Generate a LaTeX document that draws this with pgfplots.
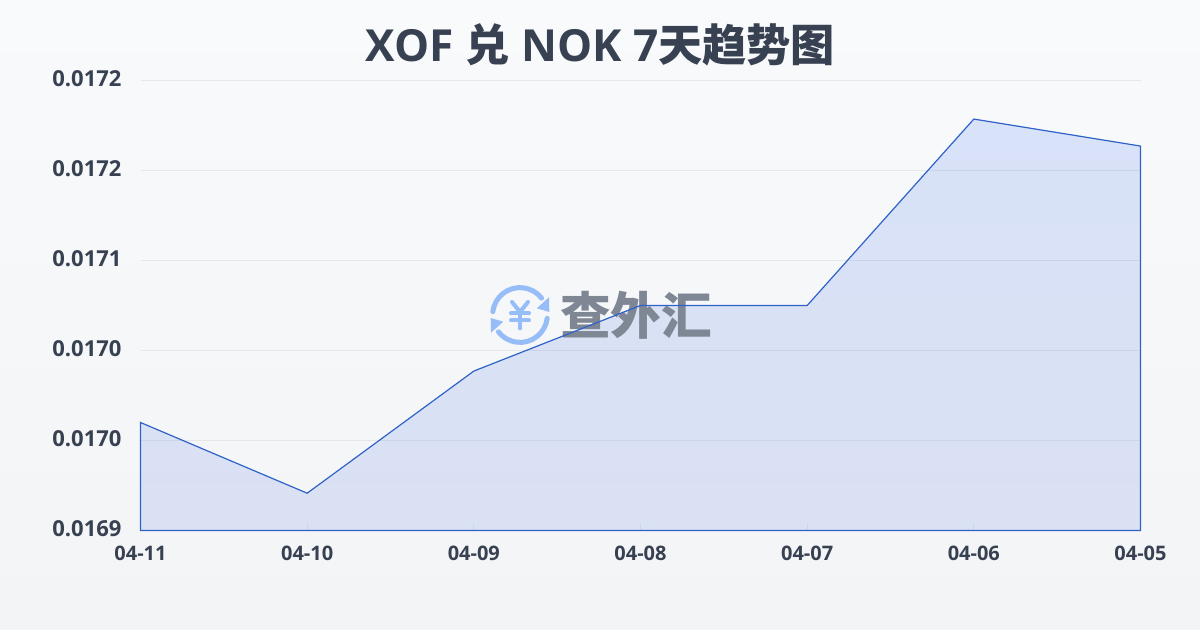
\documentclass[border=0pt]{standalone}
\usepackage{pgfplots}
\usepackage{fontspec}
\pgfplotsset{compat=1.18}
\setmainfont{Open Sans}
\newfontfamily\cjk{Noto Sans CJK SC}
\definecolor{txt}{HTML}{374151}
\definecolor{gridc}{HTML}{E5E7EB}
\definecolor{linec}{HTML}{2F62C8}
\definecolor{filltop}{HTML}{2563EB}
\definecolor{fillbot}{HTML}{4770DC}
\definecolor{bgtop}{HTML}{F9FAFC}
\definecolor{bgbot}{HTML}{F3F4F6}
\definecolor{wm}{HTML}{7F8694}
\definecolor{logo}{HTML}{96BDF8}
\pgfplotstableread{
x y
0 0.016984
1 0.016929
2 0.017024
3 0.017075
4 0.017075
5 0.017220
6 0.017199
}\ratedata
\pgfplotsset{base/.style={
  at={(70.25pt,-265.25pt)},anchor=south west,
  scale only axis,width=500pt,height=225pt,
  xmin=0,xmax=6,ymin=0.0169,ymax=0.01725,
  axis line style={draw=none},clip=false,scaled y ticks=false}}
\begin{document}
\begin{tikzpicture}[x=0.5pt,y=-0.5pt]
\path[use as bounding box,top color=bgtop,bottom color=bgbot] (0,0) rectangle (1200,630);
\node[anchor=center,font=\fontsize{22.1}{25}\selectfont\bfseries,text=txt] at (600.5,45) {XOF {\cjk\bfseries 兑} NOK 7{\cjk\bfseries 天趋势图}};
\begin{axis}[base,
  xtick={0,...,6},
  xticklabels={\textbf{04-11},\textbf{04-10},\textbf{04-09},\textbf{04-08},\textbf{04-07},\textbf{04-06},\textbf{04-05}},
  ytick={0.0169,0.01697,0.01704,0.01711,0.01718,0.01725},
  yticklabels={\textbf{0.0169},\textbf{0.0170},\textbf{0.0170},\textbf{0.0171},\textbf{0.0172},\textbf{0.0172}},
  ymajorgrids,grid style={gridc,line width=0.5pt},
  tick style={draw=gridc,line width=0.5pt},
  major tick length=3pt,
  xtick pos=bottom,ytick pos=left,
  ytick style={draw=none},
  tick label style={text=txt},
  xticklabel style={font=\fontsize{10}{12}\selectfont,yshift=-4pt},
  yticklabel style={font=\fontsize{11}{13}\selectfont,xshift=-6pt,yshift=1pt},
]
\addplot[draw=none,top color=filltop,bottom color=fillbot,fill opacity=0.15] table[x=x,y=y]{\ratedata} \closedcycle;
\end{axis}
% watermark
\begin{scope}[logo,line width=2.5pt,line cap=round,line join=round]
\draw (520,315) ++(173:13.7pt) arc[start angle=173,end angle=38,radius=13.7pt];
\draw (520,315) ++(-7:13.7pt) arc[start angle=-7,end angle=-142,radius=13.7pt];
\fill (549,297.3) -- (549.3,312) -- (536.7,308.3) -- cycle;
\fill (491,332.7) -- (490.7,318) -- (503.3,321.7) -- cycle;
\draw[line width=2pt] (512,302) -- (520,312) -- (528,302);
\draw[line width=2pt] (511,313.5) -- (529,313.5);
\draw[line width=2pt] (511,320.5) -- (529,320.5);
\draw[line width=2pt] (520,312) -- (520,328.5);
\end{scope}
\node[anchor=center,font=\fontsize{25.3}{27}\cjk\bfseries,text=wm] at (636,315.5) {查外汇};
\begin{axis}[base,xtick=\empty,ytick=\empty]
\addplot[draw=linec,line width=0.6pt] table[x=x,y=y]{\ratedata} \closedcycle;
\end{axis}
\end{tikzpicture}
\end{document}
